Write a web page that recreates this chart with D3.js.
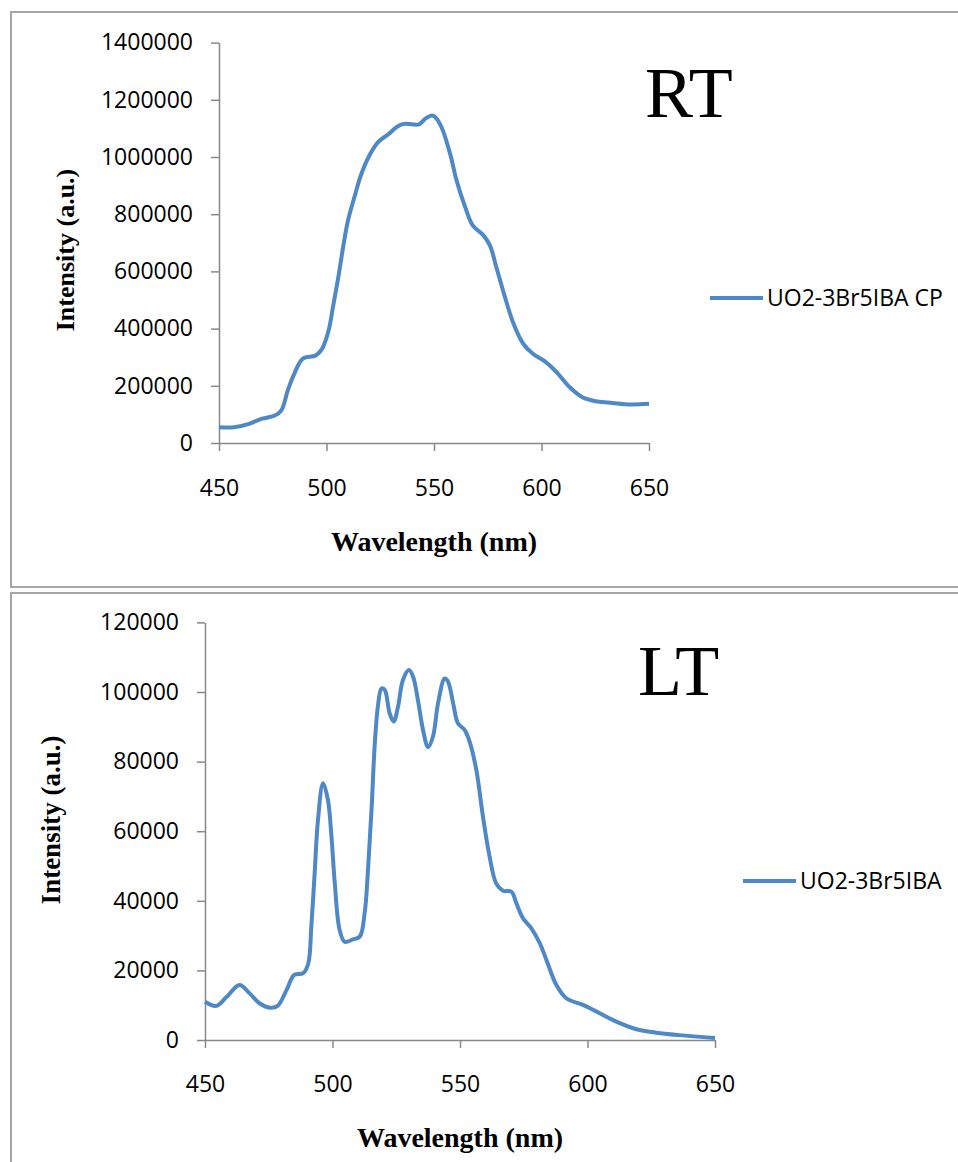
<!DOCTYPE html>
<html lang="en">
<head>
<meta charset="utf-8">
<title>UO2-3Br5IBA emission</title>
<script src="https://d3js.org/d3.v7.min.js"></script>
<style>
  body { margin: 0; background: #fff; }
  .tick text { font-family: "Open Sans", sans-serif; font-size: 23px; fill: #000; }
  .axis path, .axis line { stroke: #888; stroke-width: 1.5; }
</style>
</head>
<body>
<svg id="chart" width="958" height="1162"></svg>
<script>
// x ticks shared by both panels
var xTicks = [450, 500, 550, 600, 650];

// RT spectrum
var rtWavelength = [450, 457, 464, 470, 476, 479, 482, 485, 489, 495, 498, 501, 503, 505.5, 508, 510, 513, 516, 520, 524, 529, 533, 536.5, 543, 546, 549, 550.5, 553.5, 557.5, 560.5, 564.5, 568, 573, 576, 579, 583, 587, 591.5, 596, 602, 607, 613, 619, 626, 633, 641, 650];
var rtIntensity = [55000, 55000, 67000, 85000, 96000, 114000, 184000, 242000, 295000, 306000, 330000, 394000, 475000, 580000, 697000, 778000, 860000, 936000, 1006000, 1052000, 1081000, 1107000, 1116000, 1114000, 1134000, 1145000, 1140000, 1104000, 1011000, 918000, 825000, 761000, 726000, 691000, 615000, 510000, 417000, 347000, 312000, 283000, 248000, 196000, 160000, 145000, 140000, 135000, 137000];
var rtYTicks = [0, 200000, 400000, 600000, 800000, 1000000, 1200000, 1400000];

// LT spectrum
var ltWavelength = [450, 454.5, 458.5, 463.5, 467.5, 471.5, 475.5, 478.5, 482, 485, 488.5, 490.5, 491.7, 493, 494.3, 496.3, 498.2, 499.6, 500.9, 502.8, 504.8, 508, 510.7, 512.6, 514, 515.3, 516.6, 517.9, 519.2, 520.5, 522.4, 524, 525.7, 527.6, 530, 531.6, 533.5, 535.5, 537.5, 539.4, 541.4, 544, 545.3, 547.3, 549.2, 551.8, 553.8, 556.4, 559, 561.6, 564.2, 566.9, 570.2, 572.1, 574.7, 578, 581.3, 583.9, 587.8, 591.7, 598.2, 604.8, 611.3, 619.2, 627, 636, 650];
var ltIntensity = [11000, 9800, 12400, 15800, 13400, 10500, 9300, 9800, 14400, 18700, 19200, 22000, 32600, 47900, 63200, 73800, 69000, 58400, 45000, 31600, 28200, 28900, 29700, 36400, 49800, 66100, 85300, 96500, 101000, 100600, 93900, 91500, 95800, 103400, 106300, 104400, 97700, 89100, 84100, 87200, 96800, 103900, 103000, 96800, 91000, 89100, 85700, 77600, 64200, 52700, 45000, 42900, 42600, 39300, 35000, 32100, 27800, 23000, 15800, 12000, 10100, 7700, 5300, 3100, 2100, 1400, 600];
var ltYTicks = [0, 20000, 40000, 60000, 80000, 100000, 120000];

var svg = d3.select("#chart");
var lineColor = "#4f88c6";

// panel frames
svg.append("rect").attr("x", 11).attr("y", 12).attr("width", 960).attr("height", 575)
    .attr("fill", "none").attr("stroke", "#a6a6a6").attr("stroke-width", 2);
svg.append("rect").attr("x", 11).attr("y", 593).attr("width", 960).attr("height", 600)
    .attr("fill", "none").attr("stroke", "#a6a6a6").attr("stroke-width", 2);

function drawPanel(p) {
    var x = d3.scaleLinear().domain([450, 650]).range([p.left, p.right]);
    var y = d3.scaleLinear().domain([0, p.yMax]).range([p.bottom, p.top]);

    svg.append("g")
        .attr("class", "axis")
        .attr("transform", "translate(" + p.left + ",0)")
        .call(d3.axisLeft(y).tickValues(p.yTicks).tickSize(8).tickSizeOuter(0).tickPadding(18)
            .tickFormat(d3.format("d")));

    svg.append("g")
        .attr("class", "axis")
        .attr("transform", "translate(0," + p.bottom + ")")
        .call(d3.axisBottom(x).tickValues(xTicks).tickSize(8).tickSizeOuter(0).tickPadding(p.xPad));

    var pts = p.wl.map(function(w, i) { return [w, p.val[i]]; });
    var line = d3.line()
        .x(function(d) { return x(d[0]); })
        .y(function(d) { return y(d[1]); })
        .curve(d3.curveCatmullRom.alpha(0.5));

    svg.append("path")
        .datum(pts)
        .attr("d", line)
        .attr("fill", "none")
        .attr("stroke", lineColor)
        .attr("stroke-width", 4)
        .attr("stroke-linejoin", "round");

    // axis titles
    svg.append("text")
        .attr("x", (p.left + p.right) / 2)
        .attr("y", p.xTitleY)
        .attr("text-anchor", "middle")
        .style("font-family", "'Liberation Serif', 'Times New Roman', serif")
        .style("font-weight", "bold")
        .style("font-size", "28px")
        .text("Wavelength (nm)");

    svg.append("text")
        .attr("transform", "translate(" + p.yTitleX + "," + p.yTitleMid + ") rotate(-90)")
        .attr("text-anchor", "middle")
        .style("font-family", "'Liberation Serif', 'Times New Roman', serif")
        .style("font-weight", "bold")
        .style("font-size", p.yTitleSize + "px")
        .text("Intensity (a.u.)");

    // big label
    svg.append("text")
        .attr("x", p.labelX)
        .attr("y", p.labelY)
        .style("font-family", "'Liberation Serif', 'Times New Roman', serif")
        .style("font-size", "72px")
        .text(p.label);

    // legend
    svg.append("line")
        .attr("x1", p.legX).attr("x2", p.legX + 53)
        .attr("y1", p.legY).attr("y2", p.legY)
        .attr("stroke", lineColor).attr("stroke-width", 4);
    svg.append("text")
        .attr("x", p.legX + 57)
        .attr("y", p.legY)
        .attr("dy", "0.36em")
        .style("font-family", "'Open Sans', sans-serif")
        .style("font-size", "23px")
        .text(p.legend);
}

drawPanel({
    left: 219, right: 649, top: 42.6, bottom: 443, yMax: 1400000, yTicks: rtYTicks,
    wl: rtWavelength, val: rtIntensity, xPad: 29,
    xTitleY: 551, yTitleX: 74, yTitleMid: 250, yTitleSize: 26,
    label: "RT", labelX: 645, labelY: 117,
    legX: 710, legY: 298, legend: "UO2-3Br5IBA CP"
});

drawPanel({
    left: 205, right: 715, top: 622.4, bottom: 1040, yMax: 120000, yTicks: ltYTicks,
    wl: ltWavelength, val: ltIntensity, xPad: 28,
    xTitleY: 1147, yTitleX: 60, yTitleMid: 820, yTitleSize: 27,
    label: "LT", labelX: 638, labelY: 695,
    legX: 743, legY: 881, legend: "UO2-3Br5IBA"
});
</script>
</body>
</html>
